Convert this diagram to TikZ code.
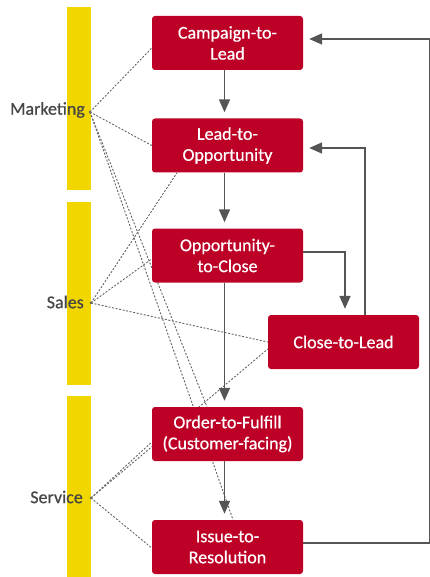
\documentclass[tikz,border=0pt]{standalone}
\usepackage{fontspec}
\setmainfont{Carlito}
\newfontfamily\diagfont[RawFeature={embolden=0.6}]{Carlito}
\usetikzlibrary{arrows.meta,calc,backgrounds}
\definecolor{boxred}{RGB}{189,0,38}
\definecolor{laneyellow}{RGB}{241,214,0}
\definecolor{arrgray}{RGB}{85,85,85}
\definecolor{dotgray}{RGB}{100,100,100}
\definecolor{labgray}{RGB}{70,70,70}
\tikzset{
  procbox/.style={draw=none, fill=boxred, rounded corners=3pt, minimum width=151pt, minimum height=54pt,
    inner sep=0pt, text=white, align=center, font=\diagfont\fontsize{18}{21}\selectfont},
  lanebar/.style={fill=laneyellow, draw=none},
  lanelab/.style={anchor=east, text=labgray, inner sep=0pt, font=\diagfont\fontsize{18}{21}\selectfont},
  dotline/.style={draw=dotgray, line width=0.9pt, dash pattern=on 2pt off 1.6pt},
  arr/.style={draw=arrgray, line width=1.7pt, -{Triangle[length=13pt,width=11pt]}, shorten >=6pt},
}
\begin{document}
\begin{tikzpicture}[x=1pt,y=-1pt]
\useasboundingbox (0,0) rectangle (430,577);
% lane hubs
\coordinate (mk) at (90,112);
\coordinate (sl) at (91,303);
\coordinate (sv) at (91,498);
% process boxes
\node[procbox] (ctl) at (227.5,43) {Campaign-to-\\Lead};
\node[procbox] (lto) at (227.5,145.5) {Lead-to-\\Opportunity};
\node[procbox] (otc) at (227.5,255.5) {Opportunity-\\to-Close};
\node[procbox] (ctlead) at (343.5,342) {Close-to-Lead};
\node[procbox] (otf) at (227.5,434) {Order-to-Fulfill\\(Customer-facing)};
\node[procbox] (itr) at (227.5,547) {Issue-to-\\Resolution};
\begin{scope}[on background layer]
% lane bars
\fill[lanebar] (67,7) rectangle (91,190);
\fill[lanebar] (67,202) rectangle (91,385);
\fill[lanebar] (67,396) rectangle (91,577);
\node[lanelab] (mklab) at (85,110) {Marketing};
\node[lanelab] (sllab) at (84,302) {Sales};
\node[lanelab] (svlab) at (83,497) {Service};
% dotted links (behind boxes)
\draw[dotline] (mk) -- ($(ctl.west)+(0,5)$);
\draw[dotline] (mk) -- (lto.west);
\draw[dotline] (mk) -- ($(otf.north)+(-20.5,0)$);
\draw[dotline] (mk) -- ($(itr.north)+(5.5,0)$);
\draw[dotline] (sl) -- ($(lto.south)+(-50.5,0)$);
\draw[dotline] (sl) -- ($(otc.west)+(0,3.5)$);
\draw[dotline] (sl) -- (ctlead.west);
\draw[dotline] (sv) -- ($(otf.west)+(0,8)$);
\draw[dotline] (sv) -- ($(ctlead.west)+(0,7)$);
\draw[dotline] (sv) -- ($(itr.west)+(0,1)$);
\fill[dotgray] (mk) circle (1.3);
\fill[dotgray] (sl) circle (1.3);
\fill[dotgray] (sv) circle (1.3);
\end{scope}
% flow arrows
\draw[arr] ($(ctl.south)+(-3,0)$) -- ($(lto.north)+(-3,0)$);
\draw[arr] ($(lto.south)+(-3,0)$) -- ($(otc.north)+(-3,0)$);
\draw[arr] ($(otc.south)+(-3,0)$) -- ($(otf.north)+(-3,0)$);
\draw[arr] ($(otf.south)+(-3,0)$) -- ($(itr.north)+(-3,0)$);
\draw[arr] ($(otc.east)+(0,-3.5)$) -| ($(ctlead.north)+(1.5,0)$);
\draw[arr] ($(ctlead.north)+(21.5,0)$) |- ($(lto.east)+(0,2.5)$);
\coordinate (rb) at (430,543);
\coordinate (rt) at (430,39);
\draw[arr] ($(itr.east)+(0,-4)$) -- (rb) -- (rt) -- ($(ctl.east)+(0,-4)$);
\end{tikzpicture}
\end{document}
